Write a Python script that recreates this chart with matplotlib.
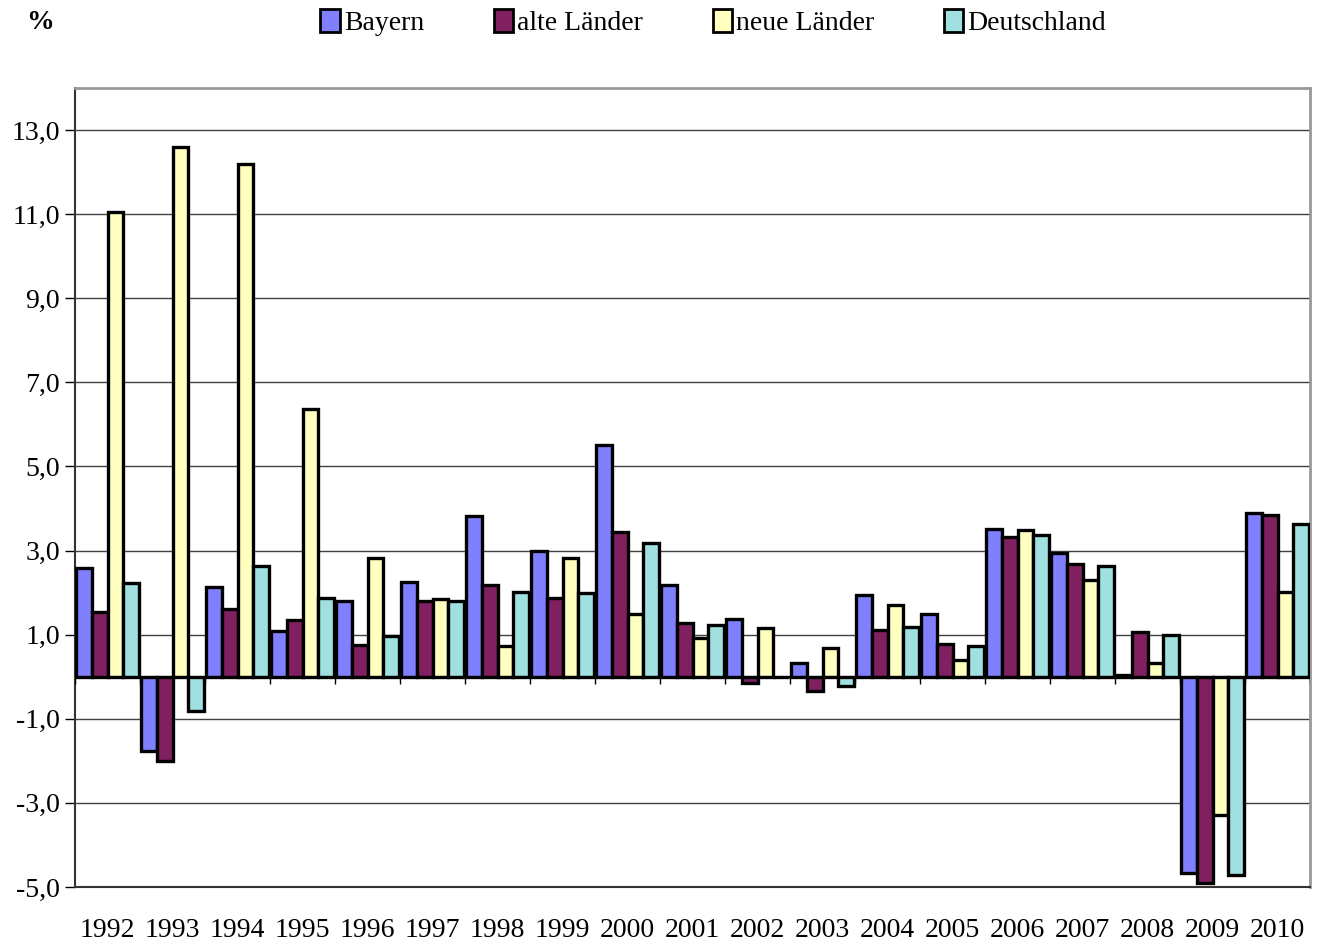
import numpy as np
import matplotlib
matplotlib.use("Agg")
import matplotlib.pyplot as plt
from matplotlib.patches import Patch

years = [str(y) for y in range(1992, 2011)]

bayern = [2.59, -1.77, 2.14, 1.08, 1.80, 2.26, 3.81, 3.00, 5.50, 2.18,
          1.38, 0.33, 1.95, 1.50, 3.52, 2.95, 0.04, -4.67, 3.89]
alte = [1.53, -2.00, 1.61, 1.34, 0.76, 1.79, 2.19, 1.88, 3.43, 1.27,
        -0.16, -0.34, 1.12, 0.78, 3.33, 2.69, 1.07, -4.90, 3.84]
neue = [11.06, 12.59, 12.19, 6.36, 2.83, 1.86, 0.74, 2.83, 1.48, 0.93,
        1.15, 0.68, 1.70, 0.39, 3.50, 2.29, 0.32, -3.29, 2.02]
deutschland = [2.22, -0.82, 2.64, 1.87, 0.98, 1.79, 2.02, 2.00, 3.19, 1.23,
               0.0, -0.22, 1.19, 0.73, 3.36, 2.64, 0.99, -4.71, 3.62]

series = [("Bayern", bayern, "#8080FF"),
          ("alte Länder", alte, "#802060"),
          ("neue Länder", neue, "#FFFFC0"),
          ("Deutschland", deutschland, "#A0E0E0")]

plt.rcParams["font.family"] = ["Liberation Serif", "DejaVu Serif"]

fig = plt.figure(figsize=(13.21, 9.44), dpi=100)
ax = fig.add_axes([0.0568, 0.0604, 0.9349, 0.8464])

x = np.arange(len(years))
w = 0.24
for i, (name, vals, col) in enumerate(series):
    ax.bar(x + (i - 1.5) * w, vals, width=w, color=col, edgecolor="black",
           linewidth=2.4, zorder=3)

ax.set_xlim(-0.5, len(years) - 0.5)
ax.set_ylim(-5, 14)
yt = np.arange(-5, 14, 2)
ax.set_yticks(yt)
ax.set_yticklabels([f"{v:.1f}".replace(".", ",") for v in yt], fontsize=20)
for v in yt[1:]:
    ax.axhline(v, color="#404040", lw=1, zorder=1)
ax.axhline(0, color="black", lw=1.5, zorder=4)

# small tick marks on the zero line between the year groups
bounds = np.arange(len(years) + 1) - 0.5
ax.vlines(bounds, -0.17, 0, color="black", lw=1, zorder=4)

ax.set_xticks(x)
ax.set_xticklabels(years, fontsize=20)
ax.tick_params(axis="x", length=0, pad=22)
ax.tick_params(axis="y", length=7, width=1, pad=4, direction="out")

for s in ["left", "bottom"]:
    ax.spines[s].set_color("#333333")
    ax.spines[s].set_linewidth(1.5)
for s in ["top", "right"]:
    ax.spines[s].set_color("#999999")
    ax.spines[s].set_linewidth(2)

handles = [Patch(facecolor=c, edgecolor="black", linewidth=2, label=n)
           for n, _, c in series]
fig.legend(handles=handles, loc="center", bbox_to_anchor=(0.54, 0.976),
           ncol=4, frameon=False, fontsize=20, handlelength=0.7,
           handleheight=0.9, handletextpad=0.15, columnspacing=2.5)

fig.text(0.02, 0.976, "%", fontsize=20, fontweight="bold", va="center")

fig.savefig("out.png", dpi=100)
